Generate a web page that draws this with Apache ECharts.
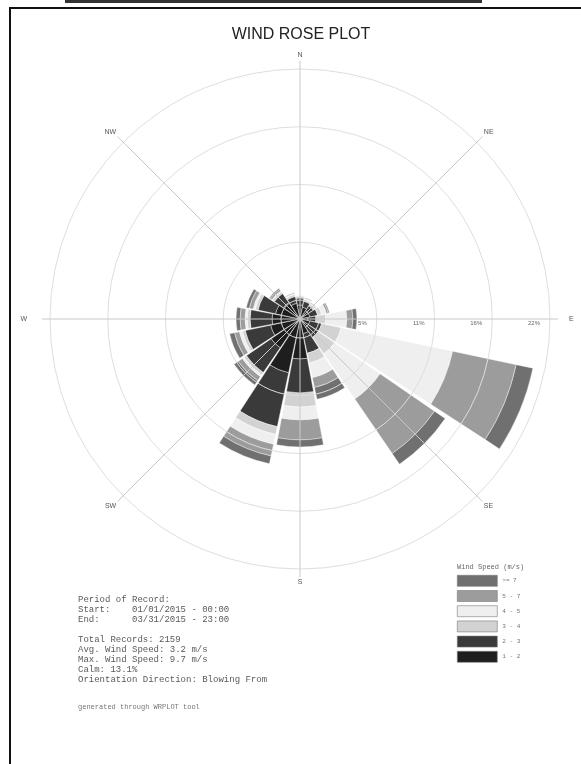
<!DOCTYPE html>
<html>
<head>
<meta charset="utf-8">
<script src="https://cdn.jsdelivr.net/npm/echarts@6/dist/echarts.min.js"></script>
<style>html,body{margin:0;padding:0;background:#fff}#c{width:581px;height:764px}</style>
</head>
<body>
<div id="c"></div>
<script>
// 16 petal directions (blowing from), clockwise from north
const directions = ['N','NNE','NE','ENE','E','ESE','SE','SSE','S','SSW','SW','WSW','W','WNW','NW','NNW'];
// compass labels for the 8 main spokes
const compassLabels = ['N','NE','E','SE','S','SW','W','NW'];
// ring labels (frequency %)
const ringLabels = ['5%','11%','16%','22%'];
// wind speed classes (m/s), from lowest (inner) to highest (outer)
const speedClasses = ['1 - 2','2 - 3','3 - 4','4 - 5','5 - 7','>= 7'];
const classColors = ['#1e1e1e','#3a3a3a','#d2d2d2','#efefef','#9c9c9c','#707070'];
// frequency (%) per direction for each speed class
const class1 = [1.23,1.06,0.88,0.88,0.70,0.88,0.88,1.32,3.52,4.84,3.08,2.64,2.46,2.20,1.76,1.41];
const class2 = [0.62,0.53,0.53,0.70,0.70,1.06,1.06,1.76,2.99,4.84,2.64,2.29,1.94,1.58,0.97,0.62];
const class3 = [0.18,0.18,0.18,0.35,0.88,1.76,1.76,0.88,1.23,0.70,0.26,0.26,0.26,0.26,0.18,0.18];
const class4 = [0.09,0.09,0.09,0.44,1.85,10.03,4.84,1.32,1.14,0.88,0.18,0.26,0.18,0.18,0.09,0.09];
const class5 = [0.00,0.09,0.09,0.18,0.53,5.72,5.81,0.88,1.76,1.06,0.44,0.44,0.44,0.35,0.18,0.09];
const class6 = [0.00,0.00,0.00,0.09,0.35,1.50,1.14,1.06,0.62,0.70,0.44,0.44,0.35,0.26,0.09,0.00];
const classData = [class1,class2,class3,class4,class5,class6];

const infoLines = [
  'Period of Record:',
  'Start:    01/01/2015 - 00:00',
  'End:      03/31/2015 - 23:00',
  '',
  'Total Records: 2159',
  'Avg. Wind Speed: 3.2 m/s',
  'Max. Wind Speed: 9.7 m/s',
  'Calm: 13.1%',
  'Orientation Direction: Blowing From'
];
const footerText = 'generated through WRPLOT tool';

const chart = echarts.init(document.getElementById('c'), null, {renderer:'canvas'});
const C = [300, 319];
const series = speedClasses.map((name, i) => ({
  type: 'bar',
  name: name,
  coordinateSystem: 'polar',
  polarIndex: 1,
  stack: 'rose',
  data: classData[i],
  barCategoryGap: '6%',
  itemStyle: { color: classColors[i], borderColor: '#ffffff', borderWidth: 0.4 },
  emphasis: { disabled: true },
  z: 2
}));

const labStyle = { fontSize: 7, color: '#555', fontFamily: 'Liberation Sans' };

chart.setOption({
  backgroundColor: '#ffffff',
  animation: false,
  title: [
    { text: 'WIND ROSE PLOT', left: 296, top: 22, textAlign: 'center',
      textStyle: { fontFamily: 'Liberation Sans', fontSize: 16, fontWeight: 'normal', color: '#222' } },
    { text: 'Wind Speed (m/s)', left: 452, top: 559,
      textStyle: { fontFamily: 'Liberation Mono', fontSize: 7, fontWeight: 'normal', color: '#666' } },
    { text: infoLines.join('\n'), left: 73, top: 590,
      textStyle: { fontFamily: 'Liberation Mono', fontSize: 9, lineHeight: 10, fontWeight: 'normal', color: '#5a5a5a' } },
    { text: footerText, left: 73, top: 699,
      textStyle: { fontFamily: 'Liberation Mono', fontSize: 7, fontWeight: 'normal', color: '#777' } }
  ],
  legend: {
    data: speedClasses.slice().reverse(),
    orient: 'vertical',
    left: 452, top: 570,
    itemWidth: 40, itemHeight: 11, itemGap: 3.6,
    icon: 'rect',
    selectedMode: false,
    itemStyle: { borderColor: '#7a7a7a', borderWidth: 0.6 },
    textStyle: { fontFamily: 'Liberation Mono', fontSize: 6, color: '#777' }
  },
  polar: [
    { center: C, radius: [19, 250] },
    { center: C, radius: [0, 250] },
    { center: C, radius: [0, 258] }
  ],
  angleAxis: [
    { polarIndex: 0, type: 'value', min: 0, max: 360, startAngle: 0, show: false },
    { polarIndex: 1, type: 'category', data: directions, startAngle: 101.25, clockwise: true, show: false },
    { polarIndex: 2, type: 'value', min: 0, max: 360, interval: 45, startAngle: 90, clockwise: true,
      axisLine: { show: false }, axisTick: { show: false },
      splitLine: { show: true, lineStyle: { color: '#c9c9c9', width: 1 } },
      axisLabel: { margin: 2, fontSize: 7, color: '#555', fontFamily: 'Liberation Sans',
        formatter: v => {
          const t = compassLabels[Math.round(v / 45)] || '';
          if (t === 'E') return '{e|E}';
          if (t === 'W') return '{w|W}';
          return t;
        },
        rich: {
          e: Object.assign({ padding: [0, 0, 0, 9] }, labStyle),
          w: Object.assign({ padding: [0, 13, 0, 0] }, labStyle)
        } },
      z: 10 }
  ],
  radiusAxis: [
    { polarIndex: 0, type: 'value', min: 0, max: 4, interval: 1,
      axisLine: { show: false }, axisTick: { show: false },
      splitLine: { show: true, lineStyle: { color: '#dedede', width: 1 } },
      axisLabel: { margin: 0, fontSize: 6, color: '#666', align: 'right', verticalAlign: 'top',
        padding: [1, 10, 0, 0],
        formatter: v => (v > 0 ? ringLabels[v - 1] : '') },
      z: 10 },
    { polarIndex: 1, type: 'value', min: 0, max: 22, show: false },
    { polarIndex: 2, type: 'value', min: 0, max: 1, show: false }
  ],
  graphic: [
    { type: 'rect', shape: { x: 10, y: 8, width: 600, height: 800 },
      style: { fill: 'none', stroke: '#111', lineWidth: 2 }, silent: true },
    { type: 'rect', shape: { x: 65, y: 0, width: 417, height: 3 },
      style: { fill: '#333' }, silent: true }
  ],
  series: series
});
</script>
</body>
</html>
